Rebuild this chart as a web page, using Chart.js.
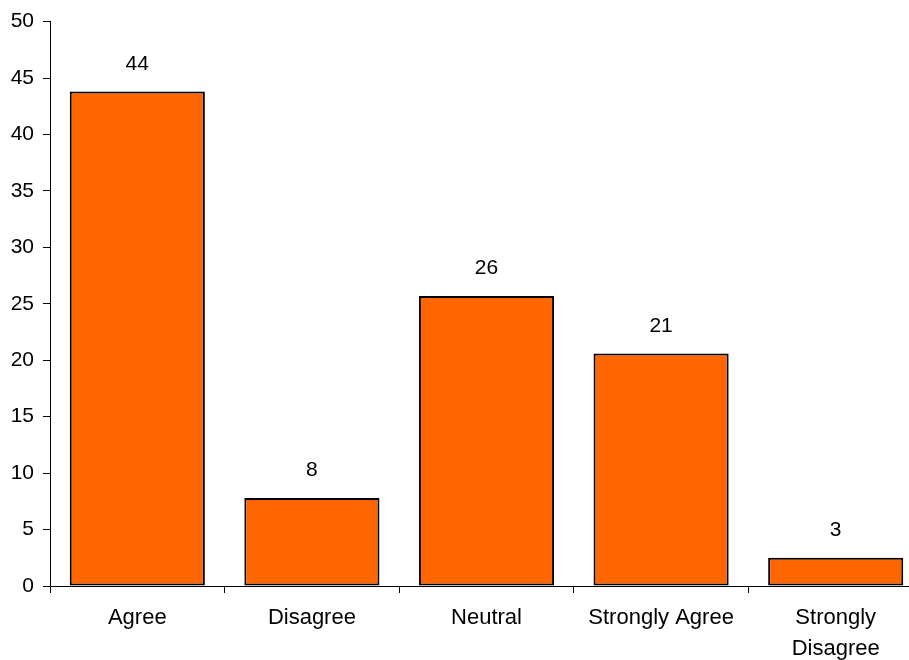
<!DOCTYPE html>
<html>
<head>
<meta charset="utf-8">
<script src="https://cdn.jsdelivr.net/npm/chart.js@4/dist/chart.umd.min.js"></script>
<style>
  html, body { margin: 0; padding: 0; background: #fff; overflow: hidden; }
  #wrap { width: 923px; height: 660px; }
</style>
</head>
<body>
<div id="wrap"><canvas id="barChart" width="923" height="660"></canvas></div>
<script>
const categories = ["Agree", "Disagree", "Neutral", "Strongly Agree", ["Strongly", "Disagree"]];
const responses = [43.8, 7.8, 25.7, 20.6, 2.5];
const yTicks = [0, 5, 10, 15, 20, 25, 30, 35, 40, 45, 50];

Chart.defaults.font.family = "'Liberation Sans', Arial, sans-serif";
Chart.defaults.font.size = 21;
Chart.defaults.color = "#000";

// value labels drawn above each bar
const valueLabels = {
  id: "valueLabels",
  afterDatasetsDraw(chart) {
    let ctx = chart.ctx;
    let meta = chart.getDatasetMeta(0);
    ctx.save();
    ctx.font = "21px 'Liberation Sans', Arial, sans-serif";
    ctx.fillStyle = "#000";
    ctx.textAlign = "center";
    ctx.textBaseline = "bottom";
    meta.data.forEach(function (bar, i) {
      ctx.fillText(Math.round(responses[i]), bar.x, bar.y - 17);
    });
    ctx.restore();
  },
};

let ctx = document.getElementById("barChart").getContext("2d");
new Chart(ctx, {
  type: "bar",
  data: {
    labels: categories,
    datasets: [
      {
        data: responses,
        backgroundColor: "#FF6600",
        borderColor: "#000",
        borderWidth: 2,
        borderSkipped: false,
        barPercentage: 0.774,
        categoryPercentage: 1,
      },
    ],
  },
  options: {
    responsive: false,
    animation: false,
    layout: { padding: { top: 7, left: 0, right: 0, bottom: 0 } },
    plugins: { legend: { display: false }, tooltip: { enabled: false } },
    scales: {
      x: {
        grid: {
          offset: true,
          drawOnChartArea: false,
          drawTicks: true,
          tickLength: 7,
          color: "#000",
        },
        border: { color: "#000", width: 1 },
        ticks: { padding: 9, maxRotation: 0, autoSkip: false, font: { size: 22, lineHeight: 1.42 } },
        afterFit: function (axis) { axis.height = 74; },
      },
      y: {
        min: 0,
        max: 50,
        afterBuildTicks: function (axis) {
          axis.ticks = yTicks.map(function (v) { return { value: v }; });
        },
        grid: { drawOnChartArea: false, tickLength: 7, color: "#000" },
        border: { color: "#000", width: 1 },
        ticks: { padding: 9, font: { size: 21 } },
        afterFit: function (axis) { axis.width = 50; },
      },
    },
  },
  plugins: [valueLabels],
});
</script>
</body>
</html>
